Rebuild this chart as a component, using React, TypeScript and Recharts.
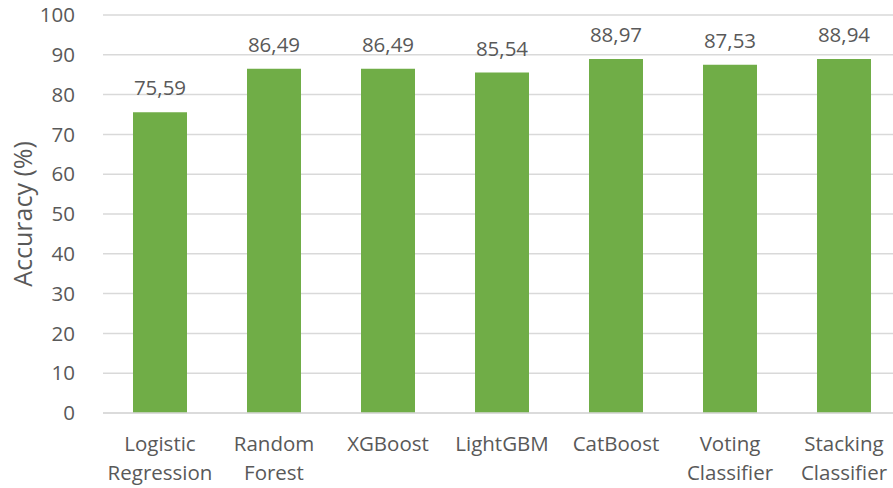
import React from "react";
import { BarChart, Bar, XAxis, YAxis, CartesianGrid, LabelList, Label } from "recharts";

const models = [
  "Logistic Regression",
  "Random Forest",
  "XGBoost",
  "LightGBM",
  "CatBoost",
  "Voting Classifier",
  "Stacking Classifier",
];
const accuracy = [75.59, 86.49, 86.49, 85.54, 88.97, 87.53, 88.94];
const yTicks = [0, 10, 20, 30, 40, 50, 60, 70, 80, 90, 100];

const data = models.map((name, i) => ({ name, accuracy: accuracy[i] }));

const FONT = "'Open Sans', sans-serif";
const TEXT = "#595959";
const SIZE = 20.5;

// category names wrap onto two lines at the space
const ModelTick = (props: any) => {
  const { x, y, payload } = props;
  const lines = String(payload.value).split(" ");
  return (
    <text x={x} y={y} textAnchor="middle" fill={TEXT} fontFamily={FONT} fontSize={SIZE}>
      {lines.map((line: string, i: number) => (
        <tspan key={i} x={x} dy={i === 0 ? 30 : 29}>
          {line}
        </tspan>
      ))}
    </text>
  );
};

const fmt = (v: any) => Number(v).toFixed(2).replace(".", ",");

const App: React.FC = () => {
  return (
    <div style={{ position: "absolute", left: 0, top: 0, width: 893, height: 488, overflow: "hidden", background: "#fff" }}>
      <BarChart
        width={910}
        height={488}
        data={data}
        margin={{ top: 15, right: 9, left: 0, bottom: 0 }}
        barSize={54}
      >
        <CartesianGrid vertical={false} stroke="#D9D9D9" strokeWidth={1.5} />
        <XAxis
          dataKey="name"
          height={75}
          axisLine={{ stroke: "#D9D9D9", strokeWidth: 1.5 }}
          tickLine={false}
          interval={0}
          tick={<ModelTick />}
        />
        <YAxis
          width={103}
          domain={[0, 100]}
          ticks={yTicks}
          axisLine={false}
          tickLine={false}
          tickMargin={22}
          tick={{ fill: TEXT, fontFamily: FONT, fontSize: SIZE }}
        >
          <Label
            value="Accuracy (%)"
            angle={-90}
            position="insideLeft"
            offset={23}
            style={{ textAnchor: "middle", fill: TEXT, fontFamily: FONT, fontSize: 25 }}
          />
        </YAxis>
        <Bar dataKey="accuracy" fill="#70AD47" isAnimationActive={false}>
          <LabelList
            dataKey="accuracy"
            position="top"
            offset={17}
            formatter={fmt}
            style={{ fill: TEXT, fontFamily: FONT, fontSize: SIZE }}
          />
        </Bar>
      </BarChart>
    </div>
  );
};

export default App;
